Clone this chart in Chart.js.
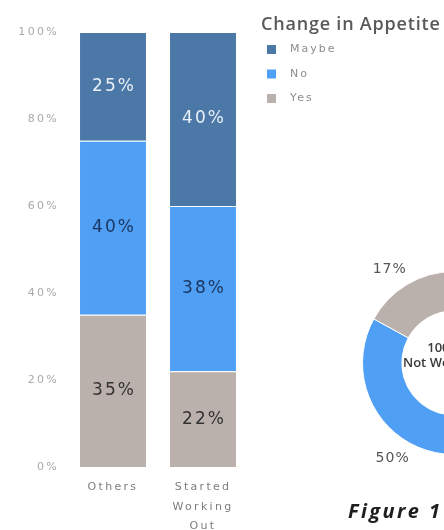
<!DOCTYPE html>
<html>
<head>
<meta charset="utf-8">
<script src="https://cdn.jsdelivr.net/npm/chart.js@4/dist/chart.umd.min.js"></script>
<style>
  html, body { margin: 0; overflow: hidden; }
  body { width: 444px; height: 530px; background: #fff; position: relative; }
  canvas { position: absolute; }
  #barChart { left: 0; top: 0; }
  #donutChart { left: 324px; top: 233px; }
  .caption {
    position: absolute; left: 348px; top: 497px;
    font: italic bold 20px "Open Sans"; letter-spacing: 2.4px;
    color: #1e1e1e; white-space: nowrap;
  }
</style>
</head>
<body>
<canvas id="barChart" width="444" height="530"></canvas>
<canvas id="donutChart" width="260" height="260"></canvas>
<div class="caption">Figure 1</div>
<script>
// stacked 100% bars, bottom segment first
const groups = [['Others'], ['Started', 'Working', 'Out']];
const yesShare = [35, 22];
const noShare = [40, 38];
const maybeShare = [25, 40];
const yTicks = [0, 20, 40, 60, 80, 100];
const legendTitle = 'Change in Appetite';

// ring on the right: Maybe, No, Yes clockwise from the top
const donutLevels = ['Maybe', 'No', 'Yes'];
const donutShare = [33, 50, 17];
const donutCenterText = ['100%', 'Not Working Out'];

const colors = { Maybe: '#4c78a8', No: '#4f9ff5', Yes: '#bab0ac' };
const valueColors = { Maybe: '#eaf0f7', No: '#1c3862', Yes: '#333333' };

const spacedText = {
  id: 'spacedText',
  beforeDraw(chart) { chart.ctx.letterSpacing = '2.3px'; },
  afterDraw(chart) { chart.ctx.letterSpacing = '0px'; }
};

const barValueLabels = {
  id: 'barValueLabels',
  afterDatasetsDraw(chart) {
    const ctx = chart.ctx;
    ctx.save();
    ctx.font = '17px "DejaVu Sans"';
    ctx.letterSpacing = '2px';
    ctx.textAlign = 'center';
    ctx.textBaseline = 'middle';
    chart.data.datasets.forEach((ds, i) => {
      chart.getDatasetMeta(i).data.forEach((bar, j) => {
        ctx.fillStyle = valueColors[ds.label];
        ctx.fillText(ds.data[j] + '%', bar.x + 1, (bar.y + bar.base) / 2);
      });
    });
    ctx.restore();
  }
};

const sideLegend = {
  id: 'sideLegend',
  afterDraw(chart) {
    const ctx = chart.ctx;
    ctx.save();
    ctx.letterSpacing = '0.8px';
    ctx.fillStyle = '#595959';
    ctx.font = '600 18px "Open Sans"';
    ctx.textBaseline = 'alphabetic';
    ctx.fillText(legendTitle, 261, 30);
    ctx.font = '11px "DejaVu Sans"';
    ctx.letterSpacing = '2px';
    ctx.textBaseline = 'middle';
    chart.data.datasets.slice().reverse().forEach((ds, k) => {
      const cy = 49.5 + k * 24.5;
      ctx.fillStyle = ds.backgroundColor;
      ctx.fillRect(267, cy - 4.5, 9, 9);
      ctx.fillStyle = '#8c8c8c';
      ctx.fillText(ds.label, 290, cy);
    });
    ctx.restore();
  }
};

new Chart(document.getElementById('barChart'), {
  type: 'bar',
  data: {
    labels: groups,
    datasets: [
      { label: 'Yes', data: yesShare, backgroundColor: colors.Yes },
      { label: 'No', data: noShare, backgroundColor: colors.No },
      { label: 'Maybe', data: maybeShare, backgroundColor: colors.Maybe }
    ]
  },
  options: {
    responsive: false,
    animation: false,
    layout: { padding: { top: 32, right: 196, left: 0, bottom: 0 } },
    datasets: {
      bar: {
        categoryPercentage: 1,
        barPercentage: 0.733,
        borderColor: '#ffffff',
        borderWidth: { top: 1 }
      }
    },
    plugins: { legend: { display: false }, tooltip: { enabled: false } },
    scales: {
      x: {
        stacked: true,
        grid: { display: false, drawTicks: false },
        border: { display: false },
        ticks: {
          color: '#7d7d7d',
          font: { family: 'DejaVu Sans', size: 11, lineHeight: 1.8 },
          padding: 10,
          maxRotation: 0,
          autoSkip: false
        },
        afterFit(scale) { scale.height = 63; }
      },
      y: {
        stacked: true,
        min: 0,
        max: 100,
        grid: { display: false, drawTicks: false },
        border: { display: false },
        afterBuildTicks(scale) { scale.ticks = yTicks.map(v => ({ value: v })); },
        ticks: {
          color: '#a9a9a9',
          font: { family: 'DejaVu Sans', size: 11 },
          padding: 9,
          callback: v => v + '%'
        },
        afterFit(scale) { scale.width = 68; }
      }
    }
  },
  plugins: [spacedText, barValueLabels, sideLegend]
});

const donutLabels = {
  id: 'donutLabels',
  afterDatasetsDraw(chart) {
    const ctx = chart.ctx;
    const arcs = chart.getDatasetMeta(0).data;
    ctx.save();
    ctx.font = '14px "DejaVu Sans"';
    ctx.letterSpacing = '1px';
    ctx.fillStyle = '#555555';
    ctx.textBaseline = 'middle';
    arcs.forEach((arc, i) => {
      const mid = (arc.startAngle + arc.endAngle) / 2;
      const r = arc.outerRadius + 17;
      const cos = Math.cos(mid);
      const px = arc.x + cos * r;
      const py = arc.y + Math.sin(mid) * r;
      ctx.textAlign = cos < 0 ? 'right' : 'left';
      ctx.fillText(chart.data.datasets[0].data[i] + '%', px + (cos < 0 ? 8 : -8), py);
    });
    // text inside the hole
    const c = arcs[0];
    ctx.letterSpacing = '0px';
    ctx.textAlign = 'center';
    ctx.fillStyle = '#3a3a3a';
    ctx.font = '600 13px "Open Sans"';
    ctx.fillText(donutCenterText[0], c.x - 10, c.y - 15);
    ctx.fillText(donutCenterText[1], c.x + 2, c.y);
    ctx.restore();
  }
};

new Chart(document.getElementById('donutChart'), {
  type: 'doughnut',
  data: {
    labels: donutLevels,
    datasets: [{
      data: donutShare,
      backgroundColor: donutLevels.map(l => colors[l]),
      borderColor: '#ffffff',
      borderWidth: 1
    }]
  },
  options: {
    responsive: false,
    animation: false,
    cutout: '57%',
    layout: { padding: 38 },
    plugins: { legend: { display: false }, tooltip: { enabled: false } }
  },
  plugins: [donutLabels]
});
</script>
</body>
</html>
